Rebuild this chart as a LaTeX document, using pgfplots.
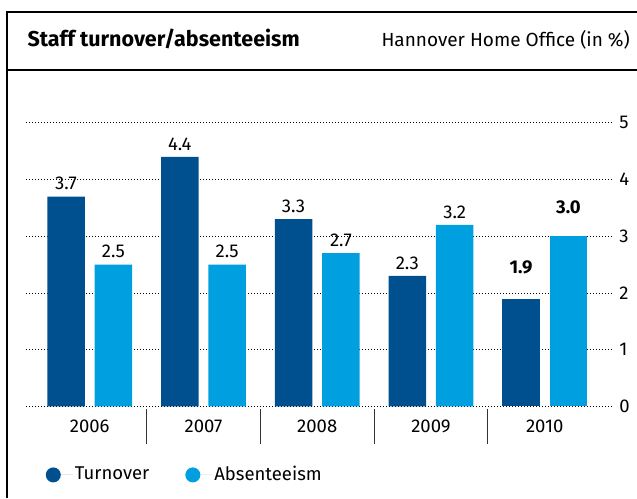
\documentclass[border=0pt]{standalone}
\usepackage{fontspec}
\setmainfont{Fira Sans}
\usepackage{pgfplots}
\pgfplotsset{compat=1.18}
\definecolor{darkb}{HTML}{00508F}
\definecolor{lightb}{HTML}{009FE0}
\newcommand\bodyfont{\fontsize{18.5}{22}\selectfont}
\begin{document}
\bodyfont
\begin{tikzpicture}[x=1pt,y=1pt]
\useasboundingbox (0,0) rectangle (637,-498);
\draw[line width=1.2pt] (7,-498) -- (7,-12) -- (640,-12);
\draw[line width=2.6pt] (7,-70) -- (640,-70);
\node[anchor=base west,inner sep=0pt,font=\fontsize{21.5}{25}\selectfont\bfseries] at (27.3,-46.7) {Staff turnover/absenteeism};
\node[anchor=base east,inner sep=0pt,font=\fontsize{19}{22}\selectfont] at (630,-46.7) {Hannover Home Office (in \%)};
\begin{axis}[
  at={(26pt,-406.3pt)}, anchor=south west,
  scale only axis, width=587pt, height=283.5pt,
  xmin=-0.56, xmax=4.6, ymin=0, ymax=5,
  axis line style={draw=none},
  clip=false,
  ytick={0,1,2,3,4,5},
  yticklabel pos=right,
  ymajorgrids,
  grid style={black, line width=0.8pt, dash pattern=on 0.8pt off 2.2pt},
  major tick length=0pt,
  xtick={0,1,2,3,4},
  xticklabels={2006,2007,2008,2009,2010},
  xticklabel style={yshift=-7pt},
  /pgf/number format/assume math mode=true,
  ticklabel style={font=\bodyfont},
  legend columns=2,
  legend style={at={(0.0337,-0.242)}, anchor=west, draw=none, fill=none,
    inner sep=0pt, outer sep=0pt,
    font=\bodyfont,
    /tikz/every even column/.append style={column sep=34pt}},
  legend image code/.code={\fill (7.5pt,0pt) circle (7.5pt); \path (0pt,0pt) -- (27pt,0pt);},
  nodes near coords style={font=\bodyfont,
    /pgf/number format/fixed, /pgf/number format/fixed zerofill,
    /pgf/number format/precision=1, /pgf/number format/assume math mode=true},
]
\addplot[ybar, bar width=0.33, bar shift=-0.208, fill=darkb, draw=none,
  nodes near coords,
  every node near coord/.append style={/tikz/xshift=-23.7pt}]
  coordinates {(0,3.7)(1,4.4)(2,3.3)(3,2.3)};
\addlegendentry{Turnover}
\addplot[ybar, bar width=0.33, bar shift=0.208, fill=lightb, draw=none,
  nodes near coords,
  every node near coord/.append style={/tikz/xshift=23.7pt}]
  coordinates {(0,2.5)(1,2.5)(2,2.7)(3,3.2)};
\addlegendentry{Absenteeism}
\addplot[ybar, bar width=0.33, bar shift=-0.208, fill=darkb, draw=none,
  nodes near coords, forget plot,
  every node near coord/.append style={/tikz/font=\bodyfont\bfseries, /tikz/xshift=-23.7pt, /tikz/yshift=18pt}]
  coordinates {(4,1.9)};
\addplot[ybar, bar width=0.33, bar shift=0.208, fill=lightb, draw=none,
  nodes near coords, forget plot,
  every node near coord/.append style={/tikz/font=\bodyfont\bfseries, /tikz/xshift=23.7pt, /tikz/yshift=16pt}]
  coordinates {(4,3.0)};
\pgfplotsinvokeforeach{0.5,1.5,2.5,3.5}{
  \draw[line width=0.9pt, black!80] ([yshift=-3pt]axis cs:#1,0) -- ([yshift=-37.7pt]axis cs:#1,0);
}
\end{axis}
\end{tikzpicture}
\end{document}
